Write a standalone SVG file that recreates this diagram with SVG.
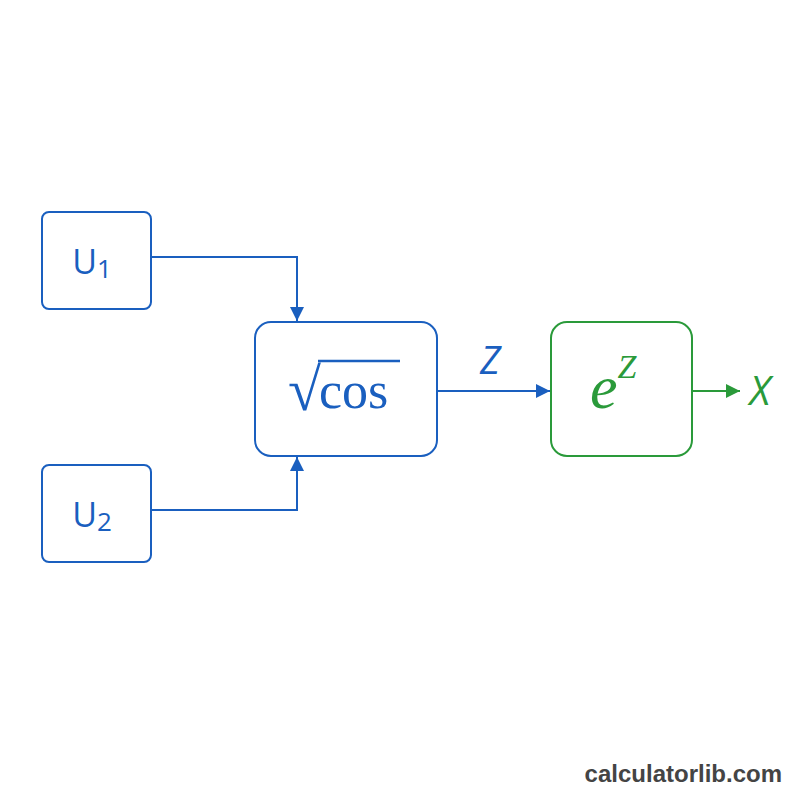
<svg xmlns="http://www.w3.org/2000/svg" width="800" height="800" viewBox="0 0 800 800">
<style>
.b{fill:#fff;stroke:#1a5fbf;stroke-width:2}
.g{fill:#fff;stroke:#2a9a3a;stroke-width:2}
.cb{fill:none;stroke:#1a5fbf;stroke-width:2}
.cg{fill:none;stroke:#2a9a3a;stroke-width:2}
.t{font-family:"Open Sans","DejaVu Sans",sans-serif;fill:#1a5fbf}
.m{font-family:"Liberation Serif",serif}
</style>
<defs>
<marker id="ab" viewBox="0 0 10 10" refX="10" refY="5" markerWidth="7" markerHeight="7" orient="auto"><path d="M0,0L10,5L0,10z" fill="#1a5fbf"/></marker>
<marker id="ag" viewBox="0 0 10 10" refX="10" refY="5" markerWidth="7" markerHeight="7" orient="auto"><path d="M0,0L10,5L0,10z" fill="#2a9a3a"/></marker>
</defs>
<rect width="800" height="800" fill="#fff"/>
<g id="connectors">
<path class="cb" d="M151,257H297V321" marker-end="url(#ab)"/>
<path class="cb" d="M151,510H297V457" marker-end="url(#ab)"/>
<path class="cb" d="M437,391H550" marker-end="url(#ab)"/>
<text x="490" y="374" text-anchor="middle" class="t" font-size="38" font-style="italic">Z</text>
<path class="cg" d="M692,391H740" marker-end="url(#ag)"/>
<text x="760" y="405" text-anchor="middle" class="t" font-size="40" font-style="italic" style="fill:#2a9a3a">X</text>
</g>
<g id="u1"><rect class="b" x="42" y="212" width="109" height="97" rx="7"/><text x="92" y="274" text-anchor="middle" class="t" font-size="34">U<tspan font-size="26" dy="4">1</tspan></text></g>
<g id="u2"><rect class="b" x="42" y="465" width="109" height="97" rx="7"/><text x="92" y="527" text-anchor="middle" class="t" font-size="34">U<tspan font-size="26" dy="4">2</tspan></text></g>
<g id="sqrtcos"><rect class="b" x="255" y="322" width="182" height="134" rx="16"/>
<text x="288" y="410" class="m" font-size="60" fill="#1a5fbf">√</text>
<line x1="318" y1="361" x2="400" y2="361" stroke="#1a5fbf" stroke-width="2.5"/>
<text x="319" y="408" class="m" font-size="52" fill="#1a5fbf">cos</text></g>
<g id="exp"><rect class="g" x="551" y="322" width="141" height="134" rx="16"/>
<text x="590" y="408" class="m" font-size="62" font-style="italic" fill="#2a9a3a">e<tspan font-size="34" dy="-30">Z</tspan></text></g>
<text x="782" y="782" text-anchor="end" font-family="Liberation Sans,sans-serif" font-weight="bold" font-size="24" fill="#444">calculatorlib.com</text>
</svg>
